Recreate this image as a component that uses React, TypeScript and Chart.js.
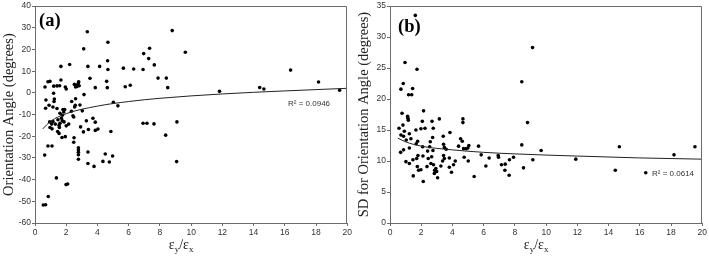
import React, { useEffect, useRef } from "react";
import { Chart, registerables } from "chart.js";

Chart.register(...registerables);

// ---------- data ----------
const ratioTicksMax = 20;

const ratioA = [3.35,8.79,4.67,3.12,7.34,9.63,6.96,7.28,4.65,7.64,1.66,2.22,3.39,4.14,5.66,6.32,6.92,4.67,16.37,7.88,8.41,3.52,1.66,0.83,0.96,2.80,4.59,18.16,1.20,5.78,6.10,2.52,2.65,2.70,2.78,2.60,2.83,1.58,0.64,1.41,1.94,2.00,3.86,4.63,8.50,14.39,14.66,11.82,19.51,3.14,1.19,0.70,1.24,1.22,2.60,2.35,5.02,5.31,0.90,1.15,0.68,1.41,2.58,2.54,2.88,3.03,2.33,1.79,1.90,1.60,1.75,2.43,2.48,1.69,1.75,3.71,3.86,3.29,0.94,1.15,1.07,1.30,1.60,2.00,1.86,1.47,1.54,0.96,1.09,1.56,2.92,1.45,3.10,3.42,4.03,3.86,4.86,1.54,1.73,1.94,2.50,2.48,8.37,6.92,7.17,7.62,9.09,0.83,1.09,2.78,2.78,2.78,2.78,2.78,3.39,0.62,4.50,4.97,4.35,4.76,9.07,3.39,3.78,1.37,2.09,1.99,0.85,0.53,0.68,2.16,1.84];
const angleA = [28.2,28.7,23.3,20.3,20.6,18.7,18.1,15.8,14.8,12.9,12.2,13.1,12.2,12.2,11.4,11.0,10.8,10.8,10.5,6.8,6.8,6.7,5.9,5.1,5.3,5.1,5.3,5.0,3.1,2.8,3.5,3.9,3.6,3.0,4.5,2.7,3.3,3.3,2.7,3.2,2.7,1.8,2.4,2.4,2.4,2.5,1.8,0.7,1.2,-0.8,-0.2,-3.3,-2.8,-4.0,-2.7,-4.0,-4.3,-6.0,-5.7,-6.5,-7.1,-7.2,-5.7,-6.5,-5.6,-8.3,-8.5,-7.7,-7.7,-9.4,-10.3,-10.6,-11.1,-11.7,-12.9,-11.7,-13.5,-12.9,-13.4,-13.2,-14.4,-14.4,-14.0,-15.2,-13.4,-12.4,-15.0,-16.0,-16.6,-16.0,-15.7,-17.8,-18.0,-16.9,-16.7,-17.3,-17.8,-18.7,-20.6,-20.2,-20.7,-22.8,-19.5,-14.0,-14.0,-14.3,-13.4,-24.5,-24.5,-25.3,-26.4,-27.4,-28.5,-30.6,-27.3,-28.7,-28.2,-29.1,-31.6,-31.9,-31.7,-32.6,-33.9,-39.2,-42.0,-42.3,-47.8,-51.7,-51.6,-14.4,-8.8];

const ratioB = [1.62,9.13,0.96,1.73,8.44,0.85,0.70,1.45,1.19,1.39,2.15,0.77,8.81,0.58,0.83,1.13,1.15,1.17,0.70,0.92,0.87,1.04,1.24,1.34,0.68,0.87,1.02,1.24,1.47,1.24,1.66,1.68,1.77,1.79,1.71,1.75,1.83,1.98,2.07,1.98,1.49,2.13,2.24,2.09,2.11,2.41,2.45,2.54,2.58,2.37,2.62,2.69,2.77,2.73,2.75,2.67,2.79,2.86,2.84,2.94,2.99,3.05,3.16,3.26,3.37,3.41,3.43,3.48,3.43,3.48,3.60,3.84,3.80,3.80,3.94,4.07,4.18,4.39,4.52,4.63,4.67,4.67,4.71,4.75,4.88,4.99,5.05,5.01,5.39,5.67,5.84,6.14,6.35,6.93,6.95,7.14,7.38,7.36,7.63,7.65,7.91,8.44,8.55,9.15,9.68,11.90,14.43,14.69,16.38,18.19,19.53];
const sdB = [33.5,28.3,25.9,24.8,22.8,22.5,21.6,21.7,20.7,20.7,18.1,17.7,16.2,15.3,15.8,17.2,16.9,16.6,14.2,14.8,14.0,13.4,14.4,13.6,11.4,11.8,9.9,9.6,10.2,12.1,15.0,12.8,13.2,10.9,10.4,9.1,8.5,8.6,16.4,15.2,7.6,6.7,15.3,12.3,10.8,11.6,10.4,12.3,13.1,9.1,9.6,16.4,15.3,13.8,11.7,10.7,9.4,8.5,8.0,8.8,8.3,7.3,16.8,9.2,10.0,14.0,12.7,12.2,10.9,10.4,11.9,14.6,10.5,9.0,8.2,9.4,10.0,12.4,13.6,13.2,16.8,16.2,12.0,10.6,12.0,12.1,12.5,10.0,7.5,12.4,11.0,9.2,10.5,10.9,10.6,9.4,9.5,8.5,7.7,10.2,10.6,12.6,8.9,10.2,11.7,10.3,8.5,12.3,8.1,11.0,12.3];

// trend lines
const trendRatio = [0.5, 1, 2, 4, 6, 8, 12, 16, 20];
const trendA = [-16.6, -13.1, -9.6, -6.1, -4.0, -2.5, -0.5, 0.9, 2.1];
const trendB = [13.7, 13.1, 12.4, 11.8, 11.4, 11.15, 10.8, 10.5, 10.3];

const r2A = "R² = 0.0946";
const r2B = "R² = 0.0614";

// ---------- style ----------
const SERIF = "'Liberation Serif', 'Times New Roman', serif";
const SANS = "'Liberation Sans', Arial, sans-serif";
const AXIS = "#6b6b6b";

type PanelProps = {
  xs: number[]; ys: number[]; tys: number[];
  yMin: number; yMax: number; yStep: number;
  yTitle: string; label: string; labelX: number; labelY: number;
  r2: string; r2X: number; r2Y: number;
};

function Panel(p: PanelProps) {
  const ref = useRef<HTMLCanvasElement | null>(null);
  useEffect(() => {
    const canvas = ref.current!;
    const overlay = {
      id: "overlay",
      afterDraw(chart: any) {
        const { ctx, chartArea: a } = chart;
        ctx.save();
        // top and right frame lines
        ctx.strokeStyle = AXIS;
        ctx.lineWidth = 1;
        ctx.beginPath();
        const t = Math.round(a.top) + 0.5;
        const r = Math.round(a.right) - 0.5;
        ctx.moveTo(Math.round(a.left), t);
        ctx.lineTo(r, t);
        ctx.lineTo(r, Math.round(a.bottom));
        ctx.stroke();
        // panel label
        ctx.fillStyle = "#000";
        ctx.font = `bold 18.5px ${SERIF}`;
        ctx.textBaseline = "alphabetic";
        ctx.textAlign = "left";
        ctx.fillText(p.label, p.labelX, p.labelY);
        // R² text
        ctx.font = `8px ${SANS}`;
        ctx.fillStyle = "#333";
        ctx.fillText(p.r2, p.r2X, p.r2Y);
        // x title: εy/εx
        const big = `14px ${SERIF}`;
        const small = `9px ${SERIF}`;
        const parts: [string, string, number][] = [
          ["ε", big, 0], ["y", small, 3], ["/", big, 0], ["ε", big, 0], ["x", small, 3],
        ];
        let w = 0;
        for (const [s, f] of parts) { ctx.font = f; w += ctx.measureText(s).width; }
        let x = (a.left + a.right) / 2 - 10 - w / 2;
        const base = 249;
        ctx.fillStyle = "#222";
        for (const [s, f, dy] of parts) {
          ctx.font = f;
          ctx.fillText(s, x, base + dy);
          x += ctx.measureText(s).width;
        }
        ctx.restore();
      },
    };
    const tickFont = { family: SANS, size: 8.5 };
    const chart = new Chart(canvas, {
      type: "scatter",
      data: {
        datasets: [
          {
            data: trendRatio.map((x, i) => ({ x, y: p.tys[i] })),
            showLine: true,
            borderColor: "#222",
            borderWidth: 1,
            pointRadius: 0,
            cubicInterpolationMode: "monotone",
          } as any,
          {
            data: p.xs.map((x, i) => ({ x, y: p.ys[i] })),
            pointRadius: 1.8,
            pointBackgroundColor: "#000",
            pointBorderWidth: 0,
            showLine: false,
          },
        ],
      },
      options: {
        responsive: false,
        animation: false,
        layout: { padding: { top: 5, right: 6, left: 0, bottom: 0 } },
        plugins: { legend: { display: false }, tooltip: { enabled: false } },
        scales: {
          x: {
            type: "linear",
            min: 0,
            max: ratioTicksMax,
            ticks: { stepSize: 2, font: tickFont, color: "#333", padding: 2, maxRotation: 0 },
            grid: { drawOnChartArea: false, drawTicks: true, tickLength: 3, color: AXIS },
            border: { color: AXIS },
            afterFit: (s: any) => { s.height = 33; },
          },
          y: {
            min: p.yMin,
            max: p.yMax,
            ticks: { stepSize: p.yStep, font: tickFont, color: "#333", padding: 1 },
            grid: { drawOnChartArea: false, drawTicks: true, tickLength: 3, color: AXIS },
            border: { color: AXIS },
            title: { display: true, text: p.yTitle, font: { family: SERIF, size: 14.5 }, color: "#222", padding: 0 },
            afterFit: (s: any) => { s.width = 35; },
          },
        },
      },
      plugins: [overlay],
    } as any);
    return () => chart.destroy();
  }, []);
  return <canvas ref={ref} width={354} height={256} style={{ display: "block", width: 354, height: 256 }} />;
}

export default function App() {
  return (
    <div style={{ position: "fixed", left: 0, top: 0, width: 709, height: 256, background: "#fff", display: "flex" }}>
      <Panel xs={ratioA} ys={angleA} tys={trendA} yMin={-60} yMax={40} yStep={10}
        yTitle="Orientation Angle (degrees)" label="(a)" labelX={39} labelY={26}
        r2={r2A} r2X={288} r2Y={106} />
      <div style={{ width: 1 }} />
      <Panel xs={ratioB} ys={sdB} tys={trendB} yMin={0} yMax={35} yStep={5}
        yTitle="SD for Orientation Angle (degrees)" label="(b)" labelX={43} labelY={32}
        r2={r2B} r2X={297} r2Y={176} />
    </div>
  );
}
